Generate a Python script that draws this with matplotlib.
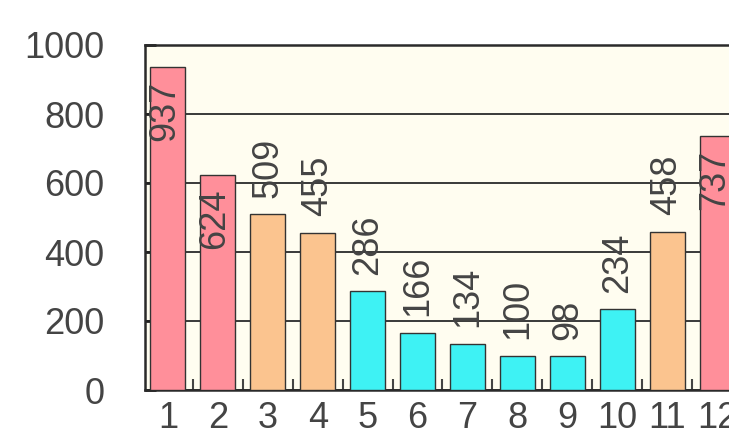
import matplotlib.pyplot as plt
from matplotlib.ticker import MultipleLocator, FixedLocator

categories = [1, 2, 3, 4, 5, 6, 7, 8, 9, 10, 11, 12]
values = [937, 624, 509, 455, 286, 166, 134, 100, 98, 234, 458, 737]
groups = ["high", "high", "mid", "mid", "low", "low", "low", "low", "low", "low", "mid", "high"]

group_colors = {"high": "#ff8f9a", "mid": "#fbc48f", "low": "#3ef2f4"}
text_color = "#444444"

plt.rcParams["font.family"] = ["Liberation Sans", "DejaVu Sans"]

fig = plt.figure(figsize=(7.29, 4.40), dpi=100)
fig.patch.set_facecolor("white")
ax = fig.add_axes([145 / 729, 50 / 440, 1 - 145 / 729, 345 / 440])
ax.set_facecolor("#fffdf0")

colors = [group_colors[g] for g in groups]
ax.bar(categories, values, width=0.7, color=colors, edgecolor="#333333", linewidth=1.0, zorder=3)

ax.set_xlim(0.54, 12.24)
ax.set_ylim(0, 1000)
ax.yaxis.set_major_locator(MultipleLocator(200))
ax.grid(axis="y", color="#2a2a2a", linewidth=1.3, zorder=1)
ax.set_axisbelow(True)

ax.set_xticks(categories)
ax.set_xticklabels([str(c) for c in categories])
ax.xaxis.set_minor_locator(FixedLocator([c + 0.5 for c in categories[:-1]]))
ax.tick_params(axis="x", which="major", length=0, pad=8, labelsize=26, labelcolor=text_color)
ax.tick_params(axis="x", which="minor", direction="in", length=8, width=1.5, color="#444444")
ax.tick_params(axis="y", direction="in", length=8, width=2, color="#222222", pad=29,
               labelsize=26, labelcolor=text_color)

for side in ["left", "bottom", "top"]:
    ax.spines[side].set_color("#2a2a2a")
    ax.spines[side].set_linewidth(1.8)
ax.spines["right"].set_visible(False)

for x, v in zip(categories, values):
    if v > 600:
        ax.annotate(str(v), (x, v), xytext=(-2, -10), textcoords="offset points",
                    rotation=90, ha="center", va="top", fontsize=26, color=text_color, zorder=4)
    else:
        ax.annotate(str(v), (x, v), xytext=(0, 12), textcoords="offset points",
                    rotation=90, ha="center", va="bottom", fontsize=26, color=text_color, zorder=4)

plt.savefig("out.png", dpi=100)
plt.close()
